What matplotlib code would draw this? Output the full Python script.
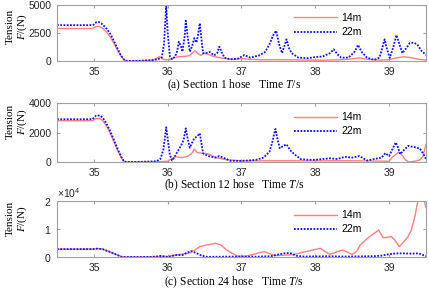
import numpy as np
import matplotlib
matplotlib.use("Agg")
import matplotlib.pyplot as plt

plt.rcParams['font.family'] = 'Liberation Sans'
plt.rcParams['mathtext.fontset'] = 'custom'
plt.rcParams['mathtext.rm'] = 'Liberation Sans'
plt.rcParams['mathtext.it'] = 'Liberation Serif:italic'

# ---- data (time in s, tension in N) ----
# Section 1 hose
t1_22 = [34.5, 34.98, 35.0, 35.03, 35.07, 35.12, 35.17, 35.22, 35.27, 35.32, 35.37, 35.42, 35.5, 35.6,
         35.7, 35.8, 35.86, 35.92, 35.95, 35.98, 36.0, 36.03, 36.06, 36.1, 36.13, 36.15, 36.18, 36.2,
         36.23, 36.245, 36.27, 36.3, 36.33, 36.36, 36.39, 36.41, 36.435, 36.46, 36.48, 36.52, 36.57,
         36.63, 36.67, 36.7, 36.73, 36.77, 36.84, 36.95, 37.04, 37.12, 37.24, 37.32, 37.38, 37.43,
         37.47, 37.51, 37.55, 37.58, 37.61, 37.64, 37.68, 37.77, 37.9, 38.0, 38.1, 38.2, 38.25, 38.3,
         38.35, 38.45, 38.53, 38.58, 38.63, 38.7, 38.8, 38.87, 38.91, 38.94, 38.97, 39.01, 39.06,
         39.1, 39.14, 39.18, 39.24, 39.28, 39.33, 39.38, 39.44, 39.5]
f1_22 = [3200, 3200, 3250, 3450, 3480, 3250, 2900, 2450, 1800, 1100, 450, 30, 0, 20,
         50, 80, 150, 300, 1500, 5000, 2500, 400, 150, 400, 900, 1720, 1300, 830,
         2200, 3600, 2200, 830, 1300, 2030, 1640, 2300, 3370, 1800, 690, 700, 800,
         500, 700, 1280, 800, 300, 150, 200, 535, 300, 500, 800, 1500, 2300,
         2700, 1500, 700, 1300, 1930, 1200, 700, 300, 250, 350, 400, 700, 1040, 600,
         300, 300, 800, 1430, 800, 300, 100, 300, 1200, 1930, 1100, 270, 1300,
         2320, 1500, 700, 1200, 1600, 1640, 1500, 900, 540]
t1_14 = [34.5, 34.98, 35.03, 35.07, 35.12, 35.17, 35.22, 35.27, 35.32, 35.37, 35.42, 35.5, 35.6, 35.7,
         35.8, 35.85, 35.89, 35.93, 35.97, 36.02, 36.06, 36.1, 36.15, 36.2, 36.25, 36.3, 36.33, 36.37,
         36.41, 36.45, 36.5, 36.55, 36.6, 36.7, 36.8, 36.9, 37.0, 37.1, 37.3, 37.5, 37.7, 37.9, 38.1,
         38.3, 38.45, 38.6, 38.7, 38.85, 39.0, 39.1, 39.2, 39.3, 39.4, 39.5]
f1_14 = [2900, 2900, 3080, 3100, 2900, 2600, 2150, 1600, 950, 400, 20, 0, 10, 30,
         80, 250, 380, 200, 100, 120, 200, 320, 380, 400, 420, 500, 700, 920,
         650, 500, 700, 600, 450, 300, 200, 150, 220, 150, 100, 120, 100, 80, 70,
         100, 150, 280, 150, 80, 120, 280, 380, 300, 150, 100]

# Section 12 hose
t2_22 = [34.5, 34.98, 35.03, 35.08, 35.12, 35.17, 35.22, 35.27, 35.32, 35.37, 35.41, 35.5, 35.7, 35.85,
         35.9, 35.94, 35.98, 36.01, 36.03, 36.06, 36.09, 36.12, 36.16, 36.2, 36.22, 36.245, 36.27,
         36.3, 36.33, 36.36, 36.4, 36.435, 36.46, 36.48, 36.55, 36.6, 36.65, 36.7, 36.75, 36.85,
         37.0, 37.1, 37.2, 37.3, 37.38, 37.42, 37.46, 37.49, 37.52, 37.57, 37.61, 37.66, 37.7, 37.8,
         37.9, 38.0, 38.1, 38.2, 38.3, 38.4, 38.5, 38.6, 38.65, 38.7, 38.8, 38.9, 38.95, 39.0, 39.05,
         39.09, 39.12, 39.15, 39.2, 39.26, 39.3, 39.35, 39.42, 39.47, 39.5]
f2_22 = [2900, 2900, 3150, 3150, 3000, 2600, 2100, 1500, 900, 350, 20, 0, 20, 50,
         200, 800, 2350, 1200, 470, 100, 300, 600, 930, 1300, 1600, 2280, 1600,
         970, 1300, 1600, 1750, 1940, 1200, 590, 400, 350, 300, 400, 300, 80,
         80, 100, 150, 300, 700, 1400, 2240, 1500, 930, 1100, 1200, 800, 600, 200,
         150, 150, 200, 250, 200, 350, 300, 400, 250, 100, 200, 300, 600, 400, 900,
         1330, 1000, 530, 800, 1100, 1050, 1000, 900, 500, 200]
t2_14 = [34.5, 34.98, 35.03, 35.08, 35.12, 35.17, 35.22, 35.27, 35.32, 35.37, 35.41, 35.5, 35.7, 35.9,
         36.0, 36.05, 36.1, 36.2, 36.28, 36.33, 36.36, 36.4, 36.45, 36.55, 36.65, 36.8, 37.0, 37.5,
         38.0, 38.5, 38.9, 39.0, 39.04, 39.09, 39.13, 39.18, 39.22, 39.27, 39.35, 39.42, 39.46, 39.5]
f2_14 = [2800, 2800, 2950, 2950, 2800, 2450, 1950, 1400, 800, 300, 10, 0, 10, 20,
         50, 200, 360, 300, 400, 600, 880, 650, 600, 550, 300, 150, 80, 80,
         80, 80, 60, 50, 300, 500, 660, 450, 150, 0, 50, 150, 400, 1200]

# Section 24 hose
t3_22 = [34.5, 34.98, 35.05, 35.12, 35.2, 35.3, 35.38, 35.45, 35.6, 35.8, 35.86, 35.9, 35.95, 36.0,
         36.05, 36.1, 36.2, 36.27, 36.32, 36.38, 36.45, 36.53, 36.7, 37.0, 37.2, 37.4, 37.5, 37.6,
         37.67, 37.75, 37.85, 38.0, 38.2, 38.4, 38.6, 38.8, 38.9, 39.0, 39.1, 39.2, 39.3, 39.4,
         39.45, 39.5]
f3_22 = [2800, 2800, 3000, 2800, 2000, 900, 50, 0, 0, 50, 200, 400, 200, 0,
         300, 700, 700, 1600, 2100, 1500, 600, 50, 100, 150, 100, 300, 900, 1400,
         1300, 400, 150, 200, 250, 150, 200, 300, 500, 1000, 1300, 1300, 1200, 1300,
         800, 300]
t3_14 = [34.5, 34.98, 35.05, 35.1, 35.2, 35.3, 35.38, 35.45, 35.6, 35.8, 35.9, 35.95, 36.0, 36.05,
         36.1, 36.2, 36.3, 36.37, 36.435, 36.55, 36.65, 36.72, 36.8, 36.88, 36.95, 37.05, 37.15,
         37.25, 37.31, 37.38, 37.45, 37.55, 37.7, 37.8, 37.95, 38.07, 38.13, 38.2, 38.3, 38.37,
         38.43, 38.5, 38.56, 38.61, 38.7, 38.77, 38.86, 38.92, 38.97, 39.03, 39.08, 39.14, 39.2,
         39.25, 39.3, 39.35, 39.39, 39.42, 39.47, 39.5]
f3_14 = [2800, 2800, 3000, 2900, 2000, 900, 50, 0, 0, 50, 200, 300, 150, 400,
         700, 1000, 1500, 2500, 3700, 4400, 4900, 4300, 2500, 1200, 300, 300, 800,
         1600, 1900, 1200, 500, 600, 800, 1500, 2400, 3100, 2000, 950, 1900, 2500,
         1800, 900, 2000, 4300, 6500, 7900, 9600, 6900, 7000, 7300, 6000, 3700, 5500,
         7000, 9500, 14400, 20000, 21500, 21000, 17600]

captions = ['(a) Section 1 hose   Time $T$/s',
            '(b) Section 12 hose   Time $T$/s',
            '(c) Section 24 hose   Time $T$/s']
ylims = [5000, 4000, 20000]
yticks = [[0, 2500, 5000], [0, 2000, 4000], [0, 10000, 20000]]
label_y = [0.61, 0.69, 0.68]
legend_y = [0.64, 0.64, 0.62]
caption_y = [-0.29, -0.27, -0.32]

series = [(t1_14, f1_14, t1_22, f1_22),
          (t2_14, f2_14, t2_22, f2_22),
          (t3_14, f3_14, t3_22, f3_22)]

# axes boxes in figure fractions [left, bottom, width, height]
boxes = [[0.1329, 0.7897, 0.860, 0.1931],
         [0.1329, 0.4414, 0.860, 0.2034],
         [0.1329, 0.1138, 0.860, 0.1931]]

edge = '#a0a0a0'
fig = plt.figure(figsize=(4.29, 2.90), dpi=100)

for i in range(3):
    ax = fig.add_axes(boxes[i])
    t14, f14, t22, f22 = series[i]
    ax.plot(t14, f14, color='#ff8080', lw=1.0, label='14m')
    ax.plot(t22, f22, color='#1010ff', lw=1.3, linestyle=(0, (1, 0.8)), label='22m')
    ax.set_xlim(34.5, 39.5)
    ax.set_ylim(0, ylims[i])
    ax.set_xticks([35, 36, 37, 38, 39])
    ax.set_yticks(yticks[i])
    if i == 2:
        # tick labels in units of 1e4, exponent drawn above the axis like the original
        ax.ticklabel_format(axis='y', style='sci', scilimits=(0, 0), useMathText=True)
        ax.yaxis.get_offset_text().set_visible(False)
        ax.text(0.0, 1.015, r'$\times10^{4}$', transform=ax.transAxes, ha='left', va='bottom',
                fontsize=7.5, color='#262626')
    for s in ax.spines.values():
        s.set_color(edge)
        s.set_linewidth(0.8)
    ax.tick_params(direction='in', length=2.5, width=0.8, color=edge, labelcolor='#262626',
                   labelsize=7.5, top=True, right=True, pad=4)
    ax.set_ylabel('Tension\n$F$/(N)', family='Liberation Serif', fontsize=8, linespacing=1.05)
    ax.yaxis.set_label_coords(-0.076, label_y[i])
    ax.set_xlabel(captions[i], family='Liberation Serif', fontsize=8.3)
    ax.xaxis.set_label_coords(0.48, caption_y[i])
    ax.legend(loc='center left', bbox_to_anchor=(0.63, legend_y[i]), frameon=False,
              fontsize=7.5, handlelength=4.2, handletextpad=0.4, labelspacing=0.4,
              borderaxespad=0)

fig.savefig('out.png', dpi=100)
